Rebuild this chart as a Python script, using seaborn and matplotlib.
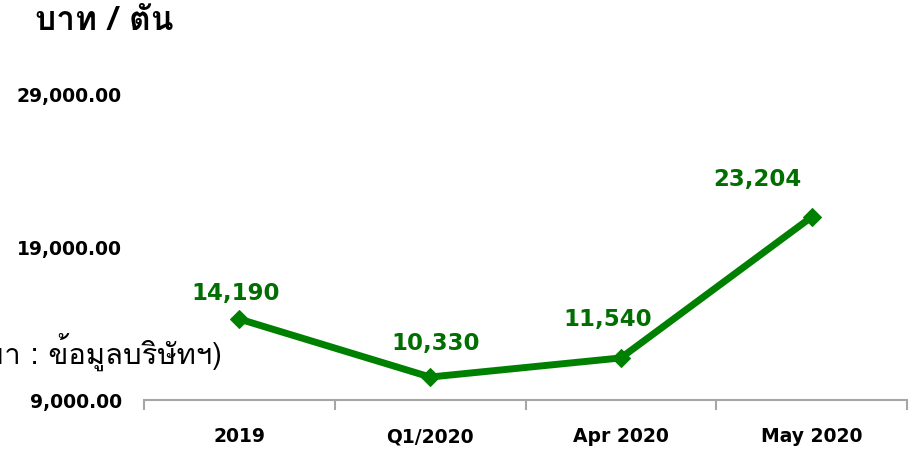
import matplotlib
matplotlib.use('Agg')
import matplotlib.pyplot as plt
import seaborn as sns
from matplotlib import font_manager, ft2font

categories = ['2019', 'Q1/2020', 'Apr 2020', 'May 2020']
# positions of the points
plotted_prices = [14290, 10500, 11750, 20960]
value_labels = ['14,190', '10,330', '11,540', '23,204']
ytick_values = [9000, 19000, 29000]
ytick_labels = ['9,000.00', '19,000.00', '29,000.00']
title_text = 'บาท / ตัน'
source_text = '(ที่มา : ข้อมูลบริษัทฯ)'

sns.set_theme(style='white')

# find a font with Thai glyphs
thai_family = None
for f in font_manager.fontManager.ttflist:
    try:
        ft = ft2font.FT2Font(f.fname)
        cm = ft.get_charmap()
        if ord('บ') in cm and ord('ั') in cm:
            thai_family = f.name
            break
    except Exception:
        pass
families = ([thai_family] if thai_family else []) + ['DejaVu Sans']
plt.rcParams['font.family'] = ['DejaVu Sans']

W, H = 911, 452
fig = plt.figure(figsize=(W / 100, H / 100), dpi=100)
ax = fig.add_axes([144 / W, 1 - 401 / H, 763 / W, (401 - 95) / H])

green = '#008000'
sns.lineplot(x=categories, y=plotted_prices, ax=ax, color=green, linewidth=5,
             marker='D', markersize=9, markeredgecolor=green,
             markerfacecolor=green, sort=False)

ax.set_xlim(-0.5, 3.5)
ax.set_ylim(9000, 29000)

# data labels (pixel offsets converted to points)
offsets_px = [(-4, 27), (6, 35), (-13, 39), (-54, 39)]
for i, (v, lab) in enumerate(zip(plotted_prices, value_labels)):
    dx, dy = offsets_px[i]
    ax.annotate(lab, (i, v), xytext=(dx * 0.72, dy * 0.72),
                textcoords='offset points', ha='center', va='center',
                fontsize=16.5, fontweight='bold', color='#006e00')

# axes styling
for s in ['left', 'right', 'top']:
    ax.spines[s].set_visible(False)
ax.spines['bottom'].set_color('#a6a6a6')
ax.spines['bottom'].set_linewidth(1.5)
ax.set_xticks(range(len(categories)))
ax.set_xticklabels(categories, fontsize=13.5, fontweight='bold', color='black')
ax.set_xticks([x - 0.5 for x in range(len(categories) + 1)], minor=True)
ax.tick_params(axis='x', which='major', length=0, pad=19)
ax.tick_params(axis='x', which='minor', length=7, width=1.5, color='#a6a6a6',
               direction='out', bottom=True)
ax.set_yticks(ytick_values)
ax.set_yticklabels(ytick_labels, fontsize=13.5, fontweight='bold', color='black')
ax.tick_params(axis='y', length=0, pad=16)
ax.grid(False)
ax.set_xlabel('')
ax.set_ylabel('')

fig.text(35 / W, 1 - 21 / H, title_text, family=families, fontsize=24,
         fontweight='bold', ha='left', va='center', color='black')
fig.text(222 / W, 1 - 352 / H, source_text, family=families, fontsize=21,
         ha='right', va='center', color='black')

fig.savefig('out.png', dpi=100)
